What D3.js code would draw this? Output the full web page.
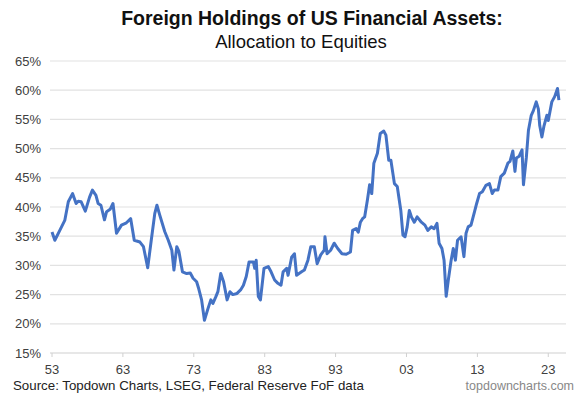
<!DOCTYPE html>
<html>
<head>
<meta charset="utf-8">
<script src="https://cdn.jsdelivr.net/npm/d3@7"></script>
<style>
  body { margin: 0; background: #fff; }
  svg { display: block; font-family: "Liberation Sans", Arial, sans-serif; }
</style>
</head>
<body>
<div id="chart"></div>
<script>
// decimal year, % of holdings in equities
var years = [1953.0,1953.4,1954.1,1954.8,1955.3,1955.9,1956.4,1956.7,1957.1,1957.7,1958.3,1958.7,1959.2,1959.5,1959.9,
  1960.4,1960.7,1961.2,1961.6,1962.1,1962.8,1963.5,1964.1,1964.6,1965.4,1965.9,1966.5,1967.0,1967.5,1967.8,1968.2,
  1968.9,1969.4,1969.9,1970.2,1970.6,1970.9,1971.4,1972.0,1972.5,1972.9,1973.4,1973.7,1974.1,1974.5,1975.0,1975.4,
  1975.7,1976.1,1976.4,1976.8,1977.2,1977.7,1978.1,1978.5,1979.1,1979.6,1980.0,1980.4,1980.8,1981.4,1981.6,1981.8,
  1982.1,1982.4,1982.9,1983.5,1983.9,1984.4,1984.8,1985.3,1985.6,1986.1,1986.3,1986.8,1987.2,1987.5,1988.2,1988.6,
  1989.1,1989.5,1990.0,1990.4,1990.9,1991.4,1991.5,1991.8,1992.3,1992.8,1993.3,1993.9,1994.5,1995.1,1995.4,1995.9,
  1996.2,1996.5,1996.8,1997.1,1997.5,1997.8,1998.1,1998.4,1998.9,1999.3,1999.8,2000.1,2000.5,2000.8,2001.3,2001.7,
  2002.2,2002.5,2002.8,2003.1,2003.4,2003.7,2004.1,2004.5,2005.1,2005.6,2006.0,2006.5,2006.9,2007.3,2007.6,2008.0,
  2008.3,2008.6,2008.9,2009.3,2009.6,2009.9,2010.2,2010.7,2011.1,2011.4,2011.7,2012.1,2012.6,2012.9,2013.3,2013.7,
  2014.2,2014.7,2015.1,2015.4,2015.9,2016.3,2016.8,2017.3,2017.6,2018.0,2018.3,2018.5,2018.9,2019.3,2019.5,2019.9,
  2020.2,2020.6,2020.9,2021.3,2021.6,2021.8,2022.1,2022.4,2022.8,2023.0,2023.5,2023.9,2024.3,2024.5];
var equityShare = [35.7,34.3,36.0,37.7,40.9,42.3,40.6,41.0,40.9,39.3,41.7,42.9,42.0,40.6,40.3,
  37.8,39.2,39.6,40.6,35.5,36.9,37.3,38.0,34.3,34.0,33.2,29.6,34.3,38.9,40.3,38.6,
  35.8,34.3,32.6,29.2,33.2,32.4,28.9,28.6,28.7,27.8,27.2,26.0,24.1,20.6,22.6,24.1,
  23.5,24.6,25.5,28.6,27.2,24.1,25.5,25.0,25.2,25.8,26.6,28.1,30.6,30.6,29.5,30.9,
  24.7,24.1,29.5,29.8,28.9,27.5,27.0,26.6,28.9,29.5,28.3,31.4,32.0,28.3,28.9,29.2,
  30.9,33.2,33.2,30.3,31.8,32.6,34.9,32.0,32.6,33.8,32.9,32.0,31.9,32.3,36.0,36.3,
  35.7,37.4,38.0,38.3,41.3,43.8,42.3,47.5,49.2,52.6,53.0,52.3,48.0,48.0,44.0,43.5,
  39.4,35.2,34.9,36.6,39.4,38.3,37.4,38.3,37.4,36.9,36.0,36.6,36.3,37.2,33.8,32.9,
  30.9,24.7,27.5,30.9,32.9,30.9,34.3,34.9,31.5,35.5,36.6,36.9,39.2,40.6,42.3,42.6,
  43.7,44.0,42.3,42.9,42.9,45.2,45.8,47.5,47.8,49.6,46.1,48.4,48.7,49.8,43.8,48.4,
  53.1,55.7,56.5,58.0,56.8,53.9,52.0,53.9,55.7,54.8,58.0,58.9,60.3,58.3];
var yTicks = [15,20,25,30,35,40,45,50,55,60,65];
var xTicks = [1953,1963,1973,1983,1993,2003,2013,2023];

var W = 582, H = 398;
var svg = d3.select("#chart").append("svg").attr("width", W).attr("height", H);

var x = d3.scaleLinear().domain([1953, 2025.5]).range([52, 566]);
var y = d3.scaleLinear().domain([15, 65]).range([353, 61]);

// gridlines
svg.append("g").selectAll("line").data(yTicks).join("line")
  .attr("x1", 50).attr("x2", 566)
  .attr("y1", function(d){ return y(d); }).attr("y2", function(d){ return y(d); })
  .attr("stroke", function(d){ return d == 15 ? "#d0d0d0" : "#e2e2e2"; })
  .attr("stroke-width", 1.2);

// y labels
svg.append("g").selectAll("text").data(yTicks).join("text")
  .attr("x", 41).attr("y", function(d){ return y(d) + 4.5; })
  .attr("text-anchor", "end")
  .attr("font-size", 13).attr("fill", "#404040")
  .text(function(d){ return d + "%"; });

// x ticks + labels
svg.append("g").selectAll("line").data(xTicks).join("line")
  .attr("x1", function(d){ return x(d); }).attr("x2", function(d){ return x(d); })
  .attr("y1", 353).attr("y2", 357)
  .attr("stroke", "#d0d0d0");
svg.append("g").selectAll("text").data(xTicks).join("text")
  .attr("x", function(d){ return x(d); }).attr("y", 374)
  .attr("text-anchor", "middle")
  .attr("font-size", 13).attr("fill", "#404040")
  .text(function(d){ return d3.format("02")(d % 100); });

// the series
var line = d3.line()
  .x(function(d, i){ return x(years[i]); })
  .y(function(d){ return y(d); })
  .curve(d3.curveLinear);
svg.append("path").datum(equityShare)
  .attr("d", line)
  .attr("fill", "none")
  .attr("stroke", "#4472c4")
  .attr("stroke-width", 3)
  .attr("stroke-linejoin", "round");

// titles
svg.append("text").attr("x", 312).attr("y", 25)
  .attr("text-anchor", "middle").attr("font-size", 19.5).attr("font-weight", "bold")
  .attr("fill", "#111").text("Foreign Holdings of US Financial Assets:");
svg.append("text").attr("x", 301).attr("y", 48)
  .attr("text-anchor", "middle").attr("font-size", 18.5)
  .attr("fill", "#111").text("Allocation to Equities");

// footer
svg.append("text").attr("x", 13).attr("y", 390)
  .attr("font-size", 13.3).attr("fill", "#222")
  .text("Source: Topdown Charts, LSEG, Federal Reserve FoF data");
svg.append("text").attr("x", 574).attr("y", 390)
  .attr("text-anchor", "end").attr("font-size", 12.5).attr("fill", "#888")
  .text("topdowncharts.com");
</script>
</body>
</html>
